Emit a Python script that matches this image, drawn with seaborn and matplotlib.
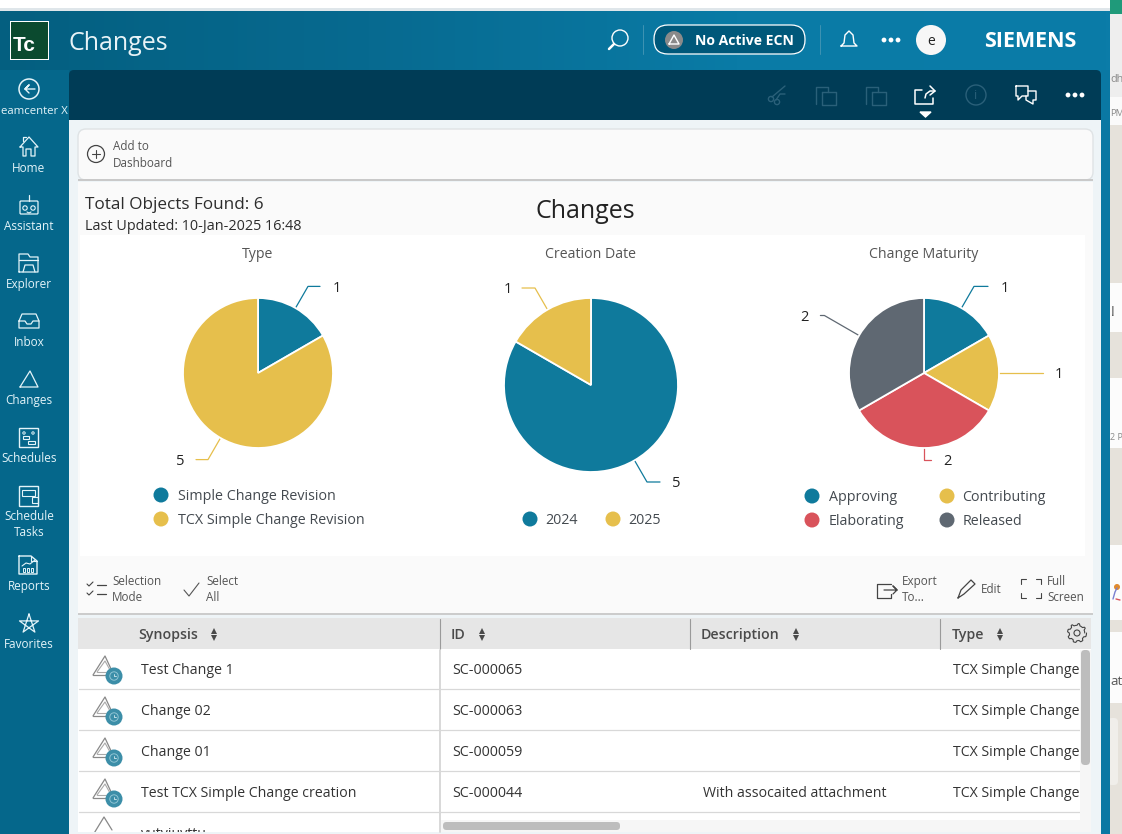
import numpy as np
import seaborn as sns
import matplotlib.pyplot as plt
from matplotlib.patches import Rectangle, Circle, FancyBboxPatch

W, H = 1122, 834

# chart data
type_labels = ['Simple Change Revision', 'TCX Simple Change Revision']
type_values = [1, 5]
date_labels = ['2024', '2025']
date_values = [5, 1]
maturity_labels = ['Approving', 'Contributing', 'Elaborating', 'Released']
maturity_values = [1, 1, 2, 2]

# table
table_headers = ['Synopsis', 'ID', 'Description', 'Type']
synopsis = ['Test Change 1', 'Change 02', 'Change 01', 'Test TCX Simple Change creation']
ids = ['SC-000065', 'SC-000063', 'SC-000059', 'SC-000044']
descriptions = ['', '', '', 'With assocaited attachment']
types = ['TCX Simple Change', 'TCX Simple Change', 'TCX Simple Change', 'TCX Simple Change']

# sidebar
nav_labels = ['Home', 'Assistant', 'Explorer', 'Inbox', 'Changes', 'Schedules', 'Schedule\nTasks', 'Reports', 'Favorites']

sns.set_theme(style='white')
plt.rcParams['font.family'] = ['Open Sans', 'DejaVu Sans']
palette = sns.color_palette(['#0f7a9c', '#e6bf4c', '#d9535b', '#5f6872'])
TXT = '#333a40'
NAV = '#e4f4f9'

fig = plt.figure(figsize=(W / 100, H / 100), dpi=100)
bg = fig.add_axes([0, 0, 1, 1], zorder=0)
bg.set_xlim(0, W)
bg.set_ylim(H, 0)
bg.axis('off')


def rect(x0, y0, x1, y1, color, z=1):
    bg.add_patch(Rectangle((x0, y0), x1 - x0, y1 - y0, fc=color, ec='none', zorder=z))


def box(x0, y0, x1, y1, color=NAV, lw=0.9, z=4):
    bg.add_patch(Rectangle((x0, y0), x1 - x0, y1 - y0, fc='none', ec=color, lw=lw, zorder=z))


def line(xs, ys, color=NAV, lw=1.0, z=4):
    bg.plot(xs, ys, color=color, lw=lw, zorder=z, solid_capstyle='round', solid_joinstyle='round')


def text(x, y, s, size=9, color=TXT, ha='left', weight='normal', **kw):
    # y is the middle of the capitals, so every line sits on the same baseline
    return bg.text(x, y + 0.49 * size, s, fontsize=size, color=color, ha=ha, va='baseline',
                   fontweight=weight, zorder=5, **kw)


def circle(x, y, r, fc='none', ec='none', lw=1.0, z=4):
    bg.add_patch(Circle((x, y), r, fc=fc, ec=ec, lw=lw, zorder=z))


def round_box(x0, y0, x1, y1, color, ec='none', r=6, z=2, lw=1.0):
    bg.add_patch(FancyBboxPatch((x0 + r, y0 + r), x1 - x0 - 2 * r, y1 - y0 - 2 * r,
                                boxstyle=f'round,pad={r}', fc=color, ec=ec, lw=lw, zorder=z))


def pie_panel(cx, cy, r, values, colors, leaders):
    # pie axes sits exactly on the circle box, radius 1 == r pixels
    ax = fig.add_axes([(cx - r) / W, 1 - (cy + r) / H, 2 * r / W, 2 * r / H], zorder=3)
    wedges, _ = ax.pie(values, colors=colors, startangle=90, counterclock=False, radius=1,
                       wedgeprops={'edgecolor': 'white', 'linewidth': 1.3})
    ax.set_xlim(-1, 1)
    ax.set_ylim(-1, 1)
    ax.axis('off')
    for w, v, c, (ext, run, gap) in zip(wedges, values, colors, leaders):
        ang = np.deg2rad((w.theta1 + w.theta2) / 2)
        dx, dy = np.cos(ang), -np.sin(ang)
        x0, y0 = cx + r * dx, cy + r * dy
        x1, y1 = cx + (r + ext) * dx, cy + (r + ext) * dy
        x2 = x1 + run
        line([x0, x1, x2], [y0, y1, y1], color=c, lw=0.9, z=2)
        text(x2 + gap, y1, str(v), size=10.5, color='#222222', ha='center')


# page background and right hand strip behind the app
BEIGE = '#e6e2db'
rect(0, 0, W, 8, 'white')
rect(0, 8, W, 11, '#dfe6ea')
rect(1110, 0, W, 14, '#1f9a7a')
rect(1110, 14, W, 97, '#eeeeee')
rect(1110, 97, W, 125, '#fafafa')
rect(1110, 125, W, 283, BEIGE)
rect(1110, 283, W, 332, '#fcfcfc')
rect(1110, 332, W, 378, BEIGE)
rect(1110, 378, W, 448, '#fcfcfc')
rect(1110, 448, W, 545, BEIGE)
rect(1110, 545, W, 620, '#fcfcfc')
rect(1110, 620, W, 632, BEIGE)
rect(1110, 632, W, 703, '#fcfcfc')
rect(1110, 703, W, 834, BEIGE)
round_box(1108, 718, 1118, 785, '#f0eeea', r=4, z=1)
text(1110.5, 78, 'dh', size=7.8, color='#8a8a8a')
text(1110, 113, 'PM', size=6.8, color='#8a8a8a')
text(1111, 311, '!', size=10, color='#444444')
text(1110, 437, '2 P', size=6.5, color='#8a8a8a')
text(1110, 680, 'at', size=9.5, color='#555555')
circle(1117, 587, 3, fc='#e08a2e', z=2)
line([1113, 1115, 1117], [599, 592, 588], color='#7a7fd0', lw=1.0, z=2)
line([1116, 1120], [599, 600], color='#d9535b', lw=1.0, z=2)

# app frame with the header gradient
grad = np.linspace(0, 1, 256).reshape(1, -1)
grad_cm = sns.blend_palette(['#045f80', '#076a90', '#0a7ba6', '#0b7ca8'], as_cmap=True)
bg.imshow(grad, extent=(0, 1110, 834, 10), cmap=grad_cm, aspect='auto', zorder=0.5)
bg.set_xlim(0, W)
bg.set_ylim(H, 0)
rect(0, 70, 69, 834, '#05678b', z=1)
rect(69, 120, 1101, 834, '#eef4f7', z=1)
rect(1101, 70, 1110, 834, '#0a78a3', z=1)
round_box(69, 70, 1101, 110, '#003c56', r=5)
rect(69, 100, 1101, 120, '#003c56', z=2)

# header
rect(10, 21, 49, 60, 'white', z=2)
rect(11, 22, 48, 59, '#0b4a2f', z=3)
text(24, 44, 'Tc', size=15, color='white', ha='center', weight='bold', family='Liberation Sans')
text(69, 41, 'Changes', size=18, color='#e8f3f7')
circle(620, 38, 8, ec='white', lw=1.0)
line([614, 609], [44, 49], color='white', lw=1.8)
line([643, 643], [25, 54], color='#3f93b3', lw=0.7)
round_box(654, 25, 805, 54, '#00587a', ec='white', r=14, lw=0.9)
circle(674, 40, 9, fc='#8a8a8a')
line([669, 674, 679, 669], [44, 35, 44, 44], color='white', lw=1.0)
text(695, 40, 'No Active ECN', size=10.1, color='white', weight='bold')
line([820, 820], [25, 54], color='#3f93b3', lw=0.7)
line([841, 844, 845, 849, 853, 854, 857, 841], [46, 43, 35, 31, 35, 43, 46, 46], color='white', lw=1.0)
for x in [884, 891, 898]:
    circle(x, 40, 2.4, fc='white')
circle(931, 40, 15, fc='#f7f7f7')
text(931, 40, 'e', size=10, color='#222222', ha='center')
text(1030, 39, 'SIEMENS', size=15.5, color='white', ha='center', weight='bold')

# dark toolbar icons
dim = '#2a6079'
circle(771, 99, 2.6, ec=dim)
circle(777, 102, 2.6, ec=dim)
line([772, 785], [97, 86], color=dim)
line([776, 780, 785], [100, 94, 94], color=dim)
for ox in [816, 866]:
    line([ox, ox, ox + 12, ox + 12], [104, 87, 87, 92], color=dim)
    line([ox + 6, ox + 6, ox + 20, ox + 20, ox + 6], [92, 105, 105, 92, 92], color=dim)
line([922, 915, 915, 933, 933], [90, 90, 104, 104, 98], color='white', lw=1.1)
line([925, 926, 930, 935], [98, 94, 91, 91], color='white', lw=1.1)
line([930, 935, 930], [86, 91, 95], color='white', lw=1.1)
bg.fill([920, 931, 925.5], [112, 112, 117], color='white', zorder=4)
circle(976, 95, 10, ec=dim)
text(976, 95, 'i', size=9, color=dim, ha='center')
line([1016, 1028, 1028, 1022, 1018, 1018, 1016, 1016], [86, 86, 96, 96, 100, 96, 96, 86], color='white', lw=1.0)
line([1028, 1036, 1036, 1033, 1033, 1026, 1026], [91, 91, 100, 100, 104, 100, 96], color='white', lw=1.0)
for x in [1068, 1075, 1082]:
    circle(x, 95, 2.4, fc='white')

# left navigation
circle(29, 89, 10, ec=NAV, lw=1.1)
line([35, 25, 29, 25, 29], [89, 89, 85, 89, 93], lw=1.0)
text(1, 110, 'eamcenter X', size=8.2, color=NAV)
nav_y = [168, 226, 284, 342, 400, 458, 516, 586, 644]
for name, y in zip(nav_labels, nav_y):
    if '\n' in name:
        text(29, y, name.split('\n')[0], size=8.5, color=NAV, ha='center')
        text(29, y + 16, name.split('\n')[1], size=8.5, color=NAV, ha='center')
    else:
        text(29, y, name, size=8.5, color=NAV, ha='center')
    # rough line icons
    if name == 'Home':
        line([20, 29, 38, 35, 35, 31, 31, 26, 26, 23, 23, 20], [147, 137, 147, 147, 156, 156, 149, 149, 156, 156, 147, 147], lw=0.9)
        line([23, 23, 26], [141, 137, 137], lw=0.9)
    elif name == 'Assistant':
        bg.add_patch(FancyBboxPatch((21, 202), 16, 11, boxstyle='round,pad=1', fc='none', ec=NAV, lw=0.9, zorder=4))
        line([29, 29], [195, 201], lw=0.9)
        circle(25, 208, 2.2, ec=NAV, lw=0.8)
        circle(33, 208, 2.2, ec=NAV, lw=0.8)
        line([27, 29, 31], [212, 213, 212], lw=0.8)
    elif name == 'Explorer':
        line([19, 19, 28, 30, 38, 38, 19], [272, 254, 254, 257, 257, 272, 272], lw=0.9)
        line([19, 38], [260, 260], lw=0.9)
        line([23, 25, 33, 35], [272, 265, 265, 272], lw=0.9)
    elif name == 'Inbox':
        line([19, 22, 36, 39, 39, 19, 19], [321, 314, 314, 321, 328, 328, 321], lw=0.9)
        line([19, 25, 27, 31, 33, 39], [321, 321, 324, 324, 321, 321], lw=0.9)
    elif name == 'Changes':
        line([20, 30, 38, 20], [387, 371, 387, 387], lw=0.9)
    elif name == 'Schedules':
        box(19, 428, 38, 447, lw=1.0)
        circle(24, 433, 1.2, ec=NAV, lw=0.7)
        circle(33, 433, 1.2, ec=NAV, lw=0.7)
        box(23, 436, 29, 439, lw=0.8)
        box(28, 441, 35, 444, lw=0.8)
    elif name == 'Schedule\nTasks':
        box(19, 486, 38, 506, lw=1.0)
        box(22, 490, 35, 496, lw=0.8)
        box(32, 497, 38, 503, lw=0.8)
    elif name == 'Reports':
        line([19, 31, 37, 37, 19, 19], [556, 556, 561, 574, 574, 556], lw=1.0)
        line([31, 31, 37], [556, 561, 561], lw=0.8)
        for x in [24, 28, 32]:
            box(x - 1, 568, x + 1, 572, lw=0.7)
        line([22, 26, 30, 35], [566, 563, 564, 560], lw=0.8)
    elif name == 'Favorites':
        a = np.deg2rad(np.arange(0, 721, 144) - 90)
        line(29 + 10 * np.cos(a), 624 + 10 * np.sin(a), lw=0.9)

# Add to dashboard card
round_box(78, 129, 1093, 180, '#fafafa', ec='#dfe3e5', r=8)
rect(78, 179, 1093, 181, '#c9c9c9', z=3)
circle(96, 154, 8.5, ec='#444444', lw=0.9)
line([92, 100], [154, 154], color='#444444', lw=0.8)
line([96, 96], [150, 158], color='#444444', lw=0.8)
text(113, 146, 'Add to', size=8.4, color='#555555')
text(113, 163, 'Dashboard', size=8.4, color='#555555')

# chart panel
rect(78, 182, 1093, 614, '#fafafa', z=1.5)
rect(80, 235, 1085, 556, 'white', z=1.6)
text(85, 203, 'Total Objects Found: 6', size=12.3, color='#2c2c2c')
text(85, 225, 'Last Updated: 10-Jan-2025 16:48', size=10.4, color='#2c2c2c')
text(585, 209, 'Changes', size=18, color='#222222', ha='center')

text(258, 253, 'Type', size=10.2, color='#555555', ha='center')
text(591, 253, 'Creation Date', size=10.2, color='#555555', ha='center')
text(924, 253, 'Change Maturity', size=10.2, color='#555555', ha='center')

pie_panel(258, 373, 75, type_values, palette[:2], [(25, 12, 17), (25, -12, -16)])
pie_panel(591, 385, 87, date_values, palette[:2], [(25, 13, 16), (25, -13, -14)])
pie_panel(924, 373, 75, maturity_values, palette,
          [(25, 14, 17), (44, 0, 16), (12, 7, 16), (40, -4, -16)])


def legend_entry(x, y, label, color, gap=17):
    circle(x, y, 7.5, fc=color)
    text(x + gap, y, label, size=10.3, color='#444a50')


legend_entry(161, 495, type_labels[0], palette[0])
legend_entry(161, 519, type_labels[1], palette[1])
legend_entry(530, 519, date_labels[0], palette[0], gap=15.5)
legend_entry(613, 519, date_labels[1], palette[1], gap=15.5)
legend_entry(812, 496, maturity_labels[0], palette[0])
legend_entry(947, 496, maturity_labels[1], palette[1], gap=15.5)
legend_entry(812, 520, maturity_labels[2], palette[2])
legend_entry(947, 520, maturity_labels[3], palette[3], gap=15.5)

# toolbar under the charts
rect(78, 613, 1093, 615, '#cccccc', z=3)
tool_col = '#555555'
for y in [585, 594]:
    line([87, 89, 93], [y - 1, y + 1, y - 3], color='#444444', lw=0.8)
    line([97, 106], [y, y], color='#444444', lw=0.9)
text(112, 581, 'Selection', size=8.4, color=tool_col)
text(112, 597, 'Mode', size=8.4, color=tool_col)
line([184, 189, 199], [590, 596, 583], color='#555555', lw=0.8)
text(206, 581, 'Select', size=8.4, color=tool_col)
text(206, 597, 'All', size=8.4, color=tool_col)
line([891, 877, 877, 891, 891], [584, 584, 598, 598, 594], color='#444444', lw=0.9)
line([884, 897, 893, 897, 893], [590, 590, 586, 590, 594], color='#444444', lw=0.9)
text(902, 581, 'Export', size=8.4, color=tool_col)
text(902, 597, 'To...', size=8.4, color=tool_col)
line([958, 961, 971, 975, 964, 958], [598, 590, 580, 584, 594, 598], color='#444444', lw=0.9)
text(981, 589, 'Edit', size=8.4, color=tool_col)
for sx, sy in [(1021, 579), (1041, 579), (1021, 598), (1041, 598)]:
    hx = 5 if sx < 1030 else -5
    vy = 5 if sy < 590 else -5
    line([sx + hx, sx, sx], [sy, sy, sy + vy], color='#444444', lw=0.8)
text(1047, 581, 'Full', size=8.4, color=tool_col)
text(1047, 597, 'Screen', size=8.4, color=tool_col)

# table
rect(78, 618, 1091, 832, 'white', z=2)
rect(78, 618, 1091, 649, '#e6e6e6', z=2.1)
header_x = [138, 451, 701, 952]
row_y = [669, 710, 751, 792]
row_lines = [689.3, 730.3, 771.3, 812.3]
for x, name in zip(header_x, table_headers):
    t = text(x, 634, name, size=10.2, color='#4a4a4a', weight='semibold')
    fig.canvas.draw()
    tx = t.get_window_extent().x1 + 16
    bg.plot([tx], [630.5], marker='^', color='#4a4a4a', ms=5, mew=0, zorder=5)
    bg.plot([tx], [637.5], marker='v', color='#4a4a4a', ms=5, mew=0, zorder=5)
for x in [440, 690, 940]:
    line([x, x], [619, 649], color='#9a9a9a', lw=0.8, z=3)
line([440, 440], [650, 832], color='#d6d6d6', lw=1.3, z=3)
for y in row_lines:
    line([79, 1080], [y, y], color='#d8d8d8', lw=0.9, z=3)
# gear icon
tooth = np.deg2rad(np.arange(0, 361, 7.5))
gear_r = 9.5 - 1.8 * (np.sin(8 * tooth) < 0)
line(1077 + gear_r * np.cos(tooth), 633 + gear_r * np.sin(tooth), color='#444444', lw=0.8)
circle(1077, 633, 3, ec='#444444', lw=0.8)

for i, y in enumerate(row_y):
    line([93, 105, 112], [y + 6, y - 13, y + 2], color='#888888', lw=0.9)
    line([93, 108], [y + 6, y + 6], color='#888888', lw=0.9)
    line([97, 105, 110], [y + 3, y - 8, y + 1], color='#aaaaaa', lw=0.8)
    line([97, 106], [y + 3, y + 3], color='#aaaaaa', lw=0.8)
    circle(114, y + 7, 8.5, fc='#3c8ea8', z=4.5)
    circle(114, y + 7, 4.2, ec='#8fc4d4', lw=0.7, z=4.6)
    line([114, 114, 116], [y + 5, y + 7, y + 7], color='#d5e9ef', lw=0.6, z=4.7)
    text(141, y, synopsis[i], size=10.2, color='#333333')
    text(452.5, y, ids[i], size=10.3, color='#333333')
    text(703, y, descriptions[i], size=10.2, color='#333333')
    t = text(953, y, types[i], size=10.2, color='#333333')
    t.set_clip_path(Rectangle((940, 600), 139.5, 234, transform=bg.transData))
    t.set_clip_on(True)

# cut off fifth row
t5 = text(141, 833, 'yutyiuyttu', size=10.2, color='#333333')
t5.set_clip_path(Rectangle((78, 812), 360, 20, transform=bg.transData))
t5.set_clip_on(True)
ic5 = bg.plot([93, 104, 112], [835, 817, 830], color='#888888', lw=0.9, zorder=4)[0]
ic5.set_clip_path(Rectangle((78, 812), 360, 20, transform=bg.transData))

# bottom edge and scroll bars
rect(441, 820, 1091, 832, '#f6f6f6', z=3.5)
rect(1080, 650, 1091, 832, '#f6f6f6', z=3.5)
round_box(1081, 650, 1090, 765, '#bdbdbd', r=4, z=4)
round_box(443, 822, 620, 830, '#bdbdbd', r=3.5, z=4)

fig.savefig('out.png', dpi=100)
